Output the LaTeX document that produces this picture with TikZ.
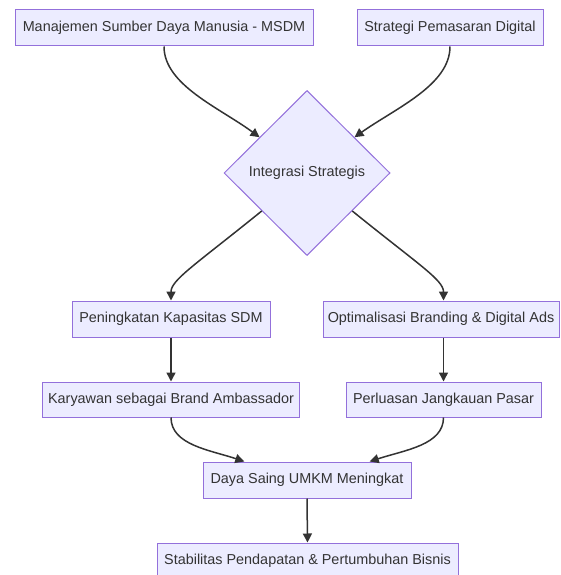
\documentclass[tikz,border=0pt]{standalone}
\usepackage{fontspec}
\setmainfont{Liberation Sans}
\usetikzlibrary{shapes.geometric,arrows.meta,calc}
\definecolor{boxfill}{HTML}{ECECFF}
\definecolor{boxline}{HTML}{9370DB}
\definecolor{ink}{HTML}{333333}
\tikzset{
  box/.style={draw=boxline, fill=boxfill, line width=1pt, minimum height=36pt, inner sep=0pt, text=ink, font=\fontsize{14.4pt}{17pt}\selectfont},
  decision/.style={diamond, aspect=1, draw=boxline, fill=boxfill, line width=1pt, minimum width=166pt, minimum height=165pt, inner sep=0pt, text=ink, font=\fontsize{14.4pt}{17pt}\selectfont},
  arr/.style={draw=ink, line width=1.5pt, -{Triangle[length=9pt,width=9pt]}}
}
\begin{document}
\begin{tikzpicture}[x=1pt,y=-1pt]
\useasboundingbox[fill=white] (0,0) rectangle (560,575);
\node[box, minimum width=298pt] (b1) at (164,28) {Manajemen Sumber Daya Manusia - MSDM};
\node[box, minimum width=186pt] (b2) at (450,28) {Strategi Pemasaran Digital};
\node[decision] (dia) at (307,173) {Integrasi Strategis};
\node[box, minimum width=198pt] (b3) at (171,319) {Peningkatan Kapasitas SDM};
\node[box, minimum width=236pt] (b4) at (441,319) {Optimalisasi Branding \& Digital Ads};
\node[box, minimum width=257pt, minimum height=35pt] (b5) at (171,399.5) {Karyawan sebagai Brand Ambassador};
\node[box, minimum width=195pt, minimum height=35pt] (b6) at (443.5,399.5) {Perluasan Jangkauan Pasar};
\node[box, minimum width=208pt] (b7) at (307,480) {Daya Saing UMKM Meningkat};
\node[box, minimum width=301pt, minimum height=35pt] (b8) at (307.5,560.5) {Stabilitas Pendapatan \& Pertumbuhan Bisnis};

\draw[arr] (b1.south) .. controls (164,85) and (220,108) .. (dia.143);
\draw[arr] (b2.south) .. controls (450,85) and (396,108) .. (dia.37);
\draw[arr] (dia.220) .. controls (195,265) and (171,280) .. (b3.north);
\draw[arr] (dia.320) .. controls (419,265) and (443.5,280) .. (b6.north |- b4.north);
\draw[arr] (b3.south) -- (b5.north);
\draw[arr] (b6.north |- b4.south) -- (b6.north);
\draw[arr] (b5.south) .. controls (171,445) and (210,450) .. ($(b7.north west)!0.2!(b7.north east)$);
\draw[arr] (b6.south) .. controls (443.5,445) and (405,450) .. ($(b7.north west)!0.8!(b7.north east)$);
\draw[arr] (b7.south) -- (b8.north);
\end{tikzpicture}
\end{document}
